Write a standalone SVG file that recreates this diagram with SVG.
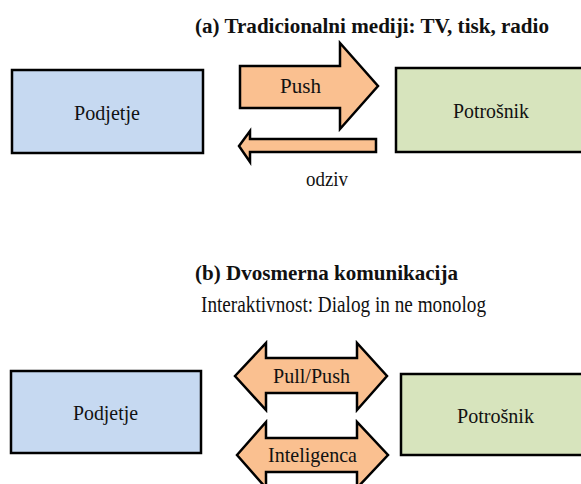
<svg xmlns="http://www.w3.org/2000/svg" width="581" height="484" viewBox="0 0 581 484">
<style>
text{font-family:"Liberation Serif","Times New Roman",serif;fill:#111}
.t{font-weight:bold;font-size:20px}
.l{font-size:22px}
.box{stroke:#000;stroke-width:2.5}
.blue{fill:#C6D9F1}
.green{fill:#D7E4BD}
.arr{fill:#FAC090;stroke:#000;stroke-width:2.5;stroke-linejoin:miter}
</style>
<rect width="581" height="484" fill="#fff"/>
<text class="t" x="195" y="33" textLength="354" lengthAdjust="spacingAndGlyphs" font-family="Liberation Serif, serif">(a) Tradicionalni mediji: TV, tisk, radio</text>
<text class="t" x="195" y="280" textLength="263" lengthAdjust="spacingAndGlyphs" style="font-size:21px" font-family="Liberation Serif, serif">(b) Dvosmerna komunikacija</text>
<text class="l" x="201" y="312" textLength="285" lengthAdjust="spacingAndGlyphs" style="font-size:23px" font-family="Liberation Serif, serif">Interaktivnost: Dialog in ne monolog</text>
<g id="podjetje-a">
<rect class="box blue" x="12" y="70" width="191" height="83"/>
<text class="l" x="74" y="120" textLength="66" lengthAdjust="spacingAndGlyphs" font-family="Liberation Serif, serif">Podjetje</text>
</g>
<g id="potrosnik-a">
<rect class="box green" x="396" y="68" width="190" height="84"/>
<text class="l" x="453" y="118" textLength="76" lengthAdjust="spacingAndGlyphs" font-family="Liberation Serif, serif">Potrošnik</text>
</g>
<g id="podjetje-b">
<rect class="box blue" x="11" y="371" width="190" height="82"/>
<text class="l" x="73" y="420" textLength="65" lengthAdjust="spacingAndGlyphs" font-family="Liberation Serif, serif">Podjetje</text>
</g>
<g id="potrosnik-b">
<rect class="box green" x="401" y="374" width="185" height="81"/>
<text class="l" x="457" y="423" textLength="77" lengthAdjust="spacingAndGlyphs" font-family="Liberation Serif, serif">Potrošnik</text>
</g>
<g id="connectors">
<g id="push">
<polygon class="arr" points="240,66 340,66 340,43 378,86 340,129 340,108 240,108"/>
<text class="l" x="280" y="93" textLength="41" lengthAdjust="spacingAndGlyphs" font-family="Liberation Serif, serif">Push</text>
</g>
<g id="odziv">
<polygon class="arr" points="376,139 250,139 250,131 239,146 250,162 250,152 376,152"/>
<text class="l" x="306" y="186" textLength="42" lengthAdjust="spacingAndGlyphs" font-family="Liberation Serif, serif">odziv</text>
</g>
<g id="pullpush">
<polygon class="arr" points="235,376 266,343 266,358 357,358 357,343 387,376 357,410 357,393 266,393 266,410"/>
<text class="l" x="273" y="383" textLength="77" lengthAdjust="spacingAndGlyphs" font-family="Liberation Serif, serif">Pull/Push</text>
</g>
<g id="inteligenca">
<polygon class="arr" points="237,455 266,422 266,438 357,438 357,422 388,455 357,488 357,472 266,472 266,488"/>
<text class="l" x="268" y="462" textLength="89" lengthAdjust="spacingAndGlyphs" font-family="Liberation Serif, serif">Inteligenca</text>
</g>
</g>
</svg>
